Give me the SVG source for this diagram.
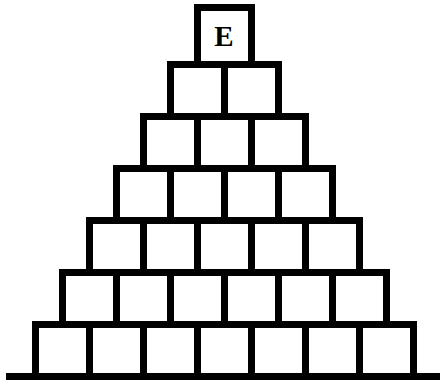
<svg xmlns="http://www.w3.org/2000/svg" width="440" height="380" viewBox="0 0 440 380">
<style>
.b{fill:#fff;stroke:#000;stroke-width:7;stroke-linejoin:miter}
.g{stroke:#000;stroke-width:7;fill:none}
.t{font-family:"Liberation Serif","Times New Roman",serif;font-weight:bold;font-size:29px;text-anchor:middle;fill:#000}
</style>
<rect width="440" height="380" fill="#fff"/>
<g id="top"><rect class="b" x="197.5" y="7.5" width="54" height="57"/><text class="t" x="224" y="45.5">E</text></g>
<g id="row1"><rect class="b" x="170.5" y="64.5" width="54" height="52"/><rect class="b" x="224.5" y="64.5" width="54" height="52"/></g>
<g id="row2"><rect class="b" x="143.5" y="116.5" width="54" height="52"/><rect class="b" x="197.5" y="116.5" width="54" height="52"/><rect class="b" x="251.5" y="116.5" width="54" height="52"/></g>
<g id="row3"><rect class="b" x="116.5" y="168.5" width="54" height="52"/><rect class="b" x="170.5" y="168.5" width="54" height="52"/><rect class="b" x="224.5" y="168.5" width="54" height="52"/><rect class="b" x="278.5" y="168.5" width="54" height="52"/></g>
<g id="row4"><rect class="b" x="89.5" y="220.5" width="54" height="52"/><rect class="b" x="143.5" y="220.5" width="54" height="52"/><rect class="b" x="197.5" y="220.5" width="54" height="52"/><rect class="b" x="251.5" y="220.5" width="54" height="52"/><rect class="b" x="305.5" y="220.5" width="54" height="52"/></g>
<g id="row5"><rect class="b" x="62.5" y="272.5" width="54" height="52"/><rect class="b" x="116.5" y="272.5" width="54" height="52"/><rect class="b" x="170.5" y="272.5" width="54" height="52"/><rect class="b" x="224.5" y="272.5" width="54" height="52"/><rect class="b" x="278.5" y="272.5" width="54" height="52"/><rect class="b" x="332.5" y="272.5" width="54" height="52"/></g>
<g id="row6"><rect class="b" x="35.5" y="324.5" width="54" height="52"/><rect class="b" x="89.5" y="324.5" width="54" height="52"/><rect class="b" x="143.5" y="324.5" width="54" height="52"/><rect class="b" x="197.5" y="324.5" width="54" height="52"/><rect class="b" x="251.5" y="324.5" width="54" height="52"/><rect class="b" x="305.5" y="324.5" width="54" height="52"/><rect class="b" x="359.5" y="324.5" width="54" height="52"/></g>
<g id="ground"><line class="g" x1="6" y1="376.5" x2="440" y2="376.5"/></g>
</svg>
